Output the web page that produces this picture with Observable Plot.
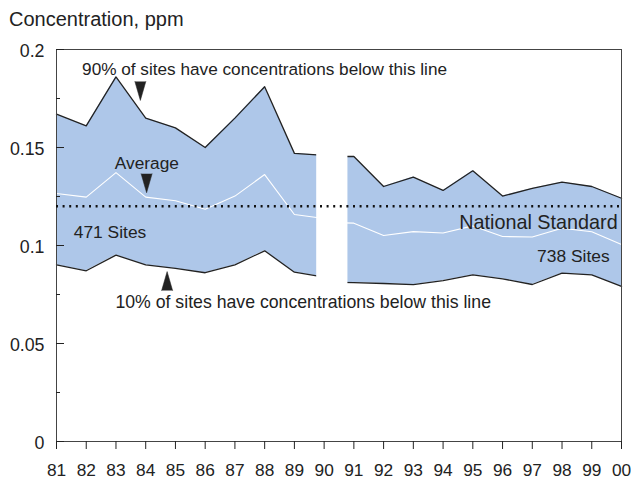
<!DOCTYPE html>
<html>
<head>
<meta charset="utf-8">
<script src="https://cdn.jsdelivr.net/npm/d3@7"></script>
<script src="https://cdn.jsdelivr.net/npm/@observablehq/plot@0.6"></script>
<style>
  html, body { margin: 0; padding: 0; background: white; }
  #chart { position: relative; width: 631px; height: 480px; font-family: "Liberation Sans", Arial, sans-serif; color: #222; }
  #title { position: absolute; left: 9px; top: 8.5px; font-size: 20px; line-height: 20px; white-space: nowrap; }
</style>
</head>
<body>
<div id="chart"><div id="title">Concentration, ppm</div></div>
<script>
// Period 1: 1981–1990 (471 sites)
const years1 = [81, 82, 83, 84, 85, 86, 87, 88, 89, 90];
const p90_1 = [0.167, 0.161, 0.186, 0.165, 0.160, 0.150, 0.165, 0.181, 0.147, 0.146];
const avg_1 = [0.1265, 0.1247, 0.1372, 0.1247, 0.1228, 0.1185, 0.1252, 0.1362, 0.1158, 0.1138];
const p10_1 = [0.0901, 0.0871, 0.0951, 0.0901, 0.0883, 0.0861, 0.0901, 0.0973, 0.0864, 0.0839];

// Period 2: 1990–2000 (738 sites)
const years2 = [90, 91, 92, 93, 94, 95, 96, 97, 98, 99, 100];
const p90_2 = [0.1454, 0.1454, 0.1301, 0.1349, 0.1281, 0.1381, 0.1252, 0.1291, 0.1323, 0.1301, 0.1241];
const avg_2 = [0.1118, 0.1114, 0.1051, 0.1071, 0.1064, 0.1100, 0.1046, 0.1043, 0.1088, 0.1070, 0.1005];
const p10_2 = [0.0813, 0.0811, 0.0806, 0.0800, 0.0821, 0.0850, 0.0830, 0.0801, 0.0859, 0.0850, 0.0791];

// Break between the two periods
const gapStart = [89.75];
const gapEnd = [90.8];

const nationalStandard = [0.12];

// Axis ticks and labels
const xTicks = [81, 82, 83, 84, 85, 86, 87, 88, 89, 90, 91, 92, 93, 94, 95, 96, 97, 98, 99, 100];
const xTickLabels = ["81", "82", "83", "84", "85", "86", "87", "88", "89", "90", "91", "92", "93", "94", "95", "96", "97", "98", "99", "00"];
const yTicks = [0, 0.05, 0.1, 0.15, 0.2];
const yTickLabels = ["0", "0.05", "0.1", "0.15", "0.2"];
const yMinorTicks = [0.025, 0.075, 0.125, 0.175];

// Annotations
const noteText = ["90% of sites have concentrations below this line", "Average", "471 Sites", "10% of sites have concentrations below this line", "738 Sites"];
const noteX = [81.86, 84.04, 81.58, 82.98, 99.6];
const noteY = [0.1898, 0.1418, 0.1068, 0.0708, 0.0943];
const noteAnchor = ["start", "middle", "start", "start", "end"];
const noteSize = [17.2, 17.3, 17.4, 17.7, 17.4];
const standardLabel = ["National Standard"];
const standardLabelX = [99.87];
const standardLabelY = [0.1115];

// Arrow markers (tip positions)
const arrowX = [83.82, 84.03, 84.72];
const arrowY = [0.174, 0.1269, 0.0867];
const arrowDir = [180, 180, 0];

const series1 = years1.map((year, i) => ({year, p90: p90_1[i], avg: avg_1[i], p10: p10_1[i]}));
const series2 = years2.map((year, i) => ({year, p90: p90_2[i], avg: avg_2[i], p10: p10_2[i]}));
const gaps = gapStart.map((x1, i) => ({x1, x2: gapEnd[i]}));
const notes = noteText.map((text, i) => ({text, x: noteX[i], y: noteY[i], anchor: noteAnchor[i], size: noteSize[i]}));
const arrows = arrowX.map((x, i) => ({x, y: arrowY[i], rotate: arrowDir[i]}));
const stdLabels = standardLabel.map((text, i) => ({text, x: standardLabelX[i], y: standardLabelY[i]}));

const bandFill = "#aec7e9";
const ink = "#222";

const bandMarks = (data) => [
  Plot.areaY(data, {x: "year", y1: "p10", y2: "p90", fill: bandFill}),
  Plot.lineY(data, {x: "year", y: "p90", stroke: ink, strokeWidth: 1.3}),
  Plot.lineY(data, {x: "year", y: "p10", stroke: ink, strokeWidth: 1.3}),
  Plot.lineY(data, {x: "year", y: "avg", stroke: "white", strokeWidth: 1.1})
];

const noteMarks = notes.map((d) =>
  Plot.text([d], {x: "x", y: "y", text: "text", textAnchor: d.anchor, fill: ink, fontSize: d.size})
);

const chart = Plot.plot({
  width: 631,
  height: 480,
  marginLeft: 56,
  marginRight: 10,
  marginTop: 49,
  marginBottom: 39,
  x: {domain: [81, 100]},
  y: {domain: [0, 0.2]},
  style: {fontFamily: "'Liberation Sans', Arial, sans-serif", fontSize: "17px", color: ink, background: "white", overflow: "visible"},
  marks: [
    ...bandMarks(series1),
    ...bandMarks(series2),
    Plot.rect(gaps, {x1: "x1", x2: "x2", fill: "white"}),
    Plot.frame({stroke: "#444", strokeWidth: 1}),
    Plot.ruleY(nationalStandard, {stroke: "#111", strokeWidth: 2.5, strokeDasharray: "2 4.6"}),
    Plot.axisX({ticks: xTicks, tickFormat: (d) => xTickLabels[xTicks.indexOf(d)], tickSize: 8, tickPadding: 14, stroke: ink, fill: ink, fontSize: 17.3}),
    Plot.axisY({ticks: yTicks, tickFormat: (d) => yTickLabels[yTicks.indexOf(d)], tickSize: 0, tickPadding: 12, dy: 2, fill: ink, fontSize: 17.8}),
    Plot.axisY({ticks: yTicks, tickFormat: () => "", tickSize: -8, stroke: ink}),
    Plot.axisY({ticks: yMinorTicks, tickFormat: () => "", tickSize: -4, stroke: ink}),
    Plot.vector(arrows, {x: "x", y: "y", rotate: "rotate", length: 19, r: 5.5, shape: "spike", anchor: "end", fill: ink, stroke: ink, strokeWidth: 0.5}),
    ...noteMarks,
    Plot.text(stdLabels, {x: "x", y: "y", text: "text", textAnchor: "end", fill: ink, fontSize: 19.8})
  ]
});

document.getElementById("chart").appendChild(chart);
</script>
</body>
</html>
